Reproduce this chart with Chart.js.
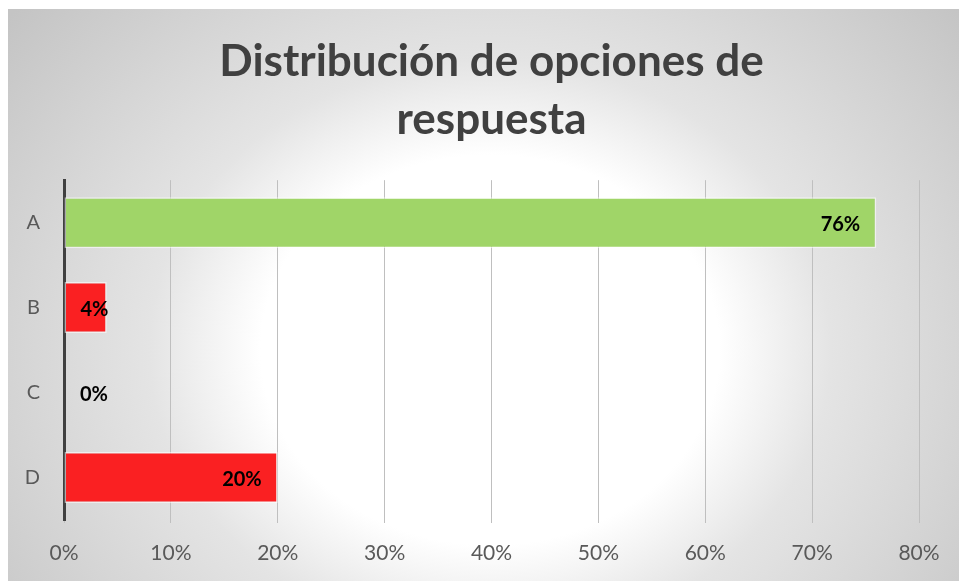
<!DOCTYPE html>
<html>
<head>
<meta charset="utf-8">
<script src="https://cdn.jsdelivr.net/npm/chart.js@4/dist/chart.umd.min.js"></script>
<style>
html,body{margin:0;padding:0;background:#fff;}
#wrap{position:relative;width:959px;height:581px;}
</style>
</head>
<body>
<div id="wrap"><canvas id="c" width="959" height="581"></canvas></div>
<script>
const categories = ['A', 'B', 'C', 'D'];
const values = [76, 4, 0, 20];
const barColors = ['#A0D568', '#FA2022', '#FA2022', '#FA2022'];
const xTicks = [0, 10, 20, 30, 40, 50, 60, 70, 80];
const titleLines = ['Distribución de opciones de', 'respuesta'];

const bgPlugin = {
  id: 'bg',
  beforeDraw(chart) {
    const ctx = chart.ctx;
    const W = chart.width, H = chart.height;
    ctx.save();
    ctx.fillStyle = '#ffffff';
    ctx.fillRect(0, 0, W, H);
    ctx.beginPath();
    ctx.rect(8, 9, W - 8, H - 9);
    ctx.clip();
    const cx = 490, cy = 350, ry = 0.85;
    ctx.translate(cx, cy);
    ctx.scale(1, ry);
    const g = ctx.createRadialGradient(0, 0, 0, 0, 0, 620);
    g.addColorStop(0, '#ffffff');
    g.addColorStop(0.37, '#ffffff');
    g.addColorStop(0.55, '#e4e4e4');
    g.addColorStop(1, '#c4c4c4');
    ctx.fillStyle = g;
    ctx.fillRect(-cx - 10, -cy / ry - 10, W + 20, H / ry + 20);
    ctx.restore();
  }
};

const labelPlugin = {
  id: 'barLabels',
  afterDatasetsDraw(chart) {
    const ctx = chart.ctx;
    const meta = chart.getDatasetMeta(0);
    ctx.save();
    ctx.font = 'bold 20px Lato';
    ctx.fillStyle = '#000000';
    ctx.textAlign = 'right';
    ctx.textBaseline = 'middle';
    meta.data.forEach((el, i) => {
      const x = Math.max(el.x - 16, el.base + 44);
      ctx.fillText(values[i] + '%', x, el.y + 2);
    });
    ctx.restore();
  }
};

new Chart(document.getElementById('c'), {
  type: 'bar',
  data: {
    labels: categories,
    datasets: [{
      data: values,
      backgroundColor: barColors,
      borderColor: 'rgba(255,255,255,0.55)',
      borderWidth: 1.5,
      borderSkipped: false,
      categoryPercentage: 0.6,
      barPercentage: 1.0
    }]
  },
  options: {
    indexAxis: 'y',
    responsive: false,
    animation: false,
    devicePixelRatio: 1,
    layout: { padding: { left: 8, right: 40, top: 9, bottom: 0 } },
    plugins: {
      legend: { display: false },
      tooltip: { enabled: false },
      title: {
        display: true,
        fullSize: false,
        text: titleLines,
        color: '#404040',
        font: { family: 'Lato', size: 44, weight: 'bold', lineHeight: 1.32 },
        padding: { top: 24, bottom: 31 }
      }
    },
    scales: {
      x: {
        min: 0,
        max: 80,
        afterBuildTicks(scale) { scale.ticks = xTicks.map(v => ({ value: v })); },
        afterFit(scale) { scale.height = 61; },
        grid: { color: '#BFBFBF', lineWidth: 1, drawTicks: true, tickLength: 3, tickColor: '#BFBFBF' },
        border: { display: false },
        ticks: {
          color: '#595959',
          font: { family: 'Lato', size: 21 },
          padding: 18,
          callback: v => v + '%'
        }
      },
      y: {
        afterFit(scale) { scale.width = 56; },
        grid: { display: false, drawTicks: false },
        border: { display: true, color: '#404040', width: 3 },
        ticks: {
          color: '#595959',
          font: { family: 'Lato', size: 20 },
          padding: 24
        }
      }
    }
  },
  plugins: [bgPlugin, labelPlugin]
});
</script>
</body>
</html>
